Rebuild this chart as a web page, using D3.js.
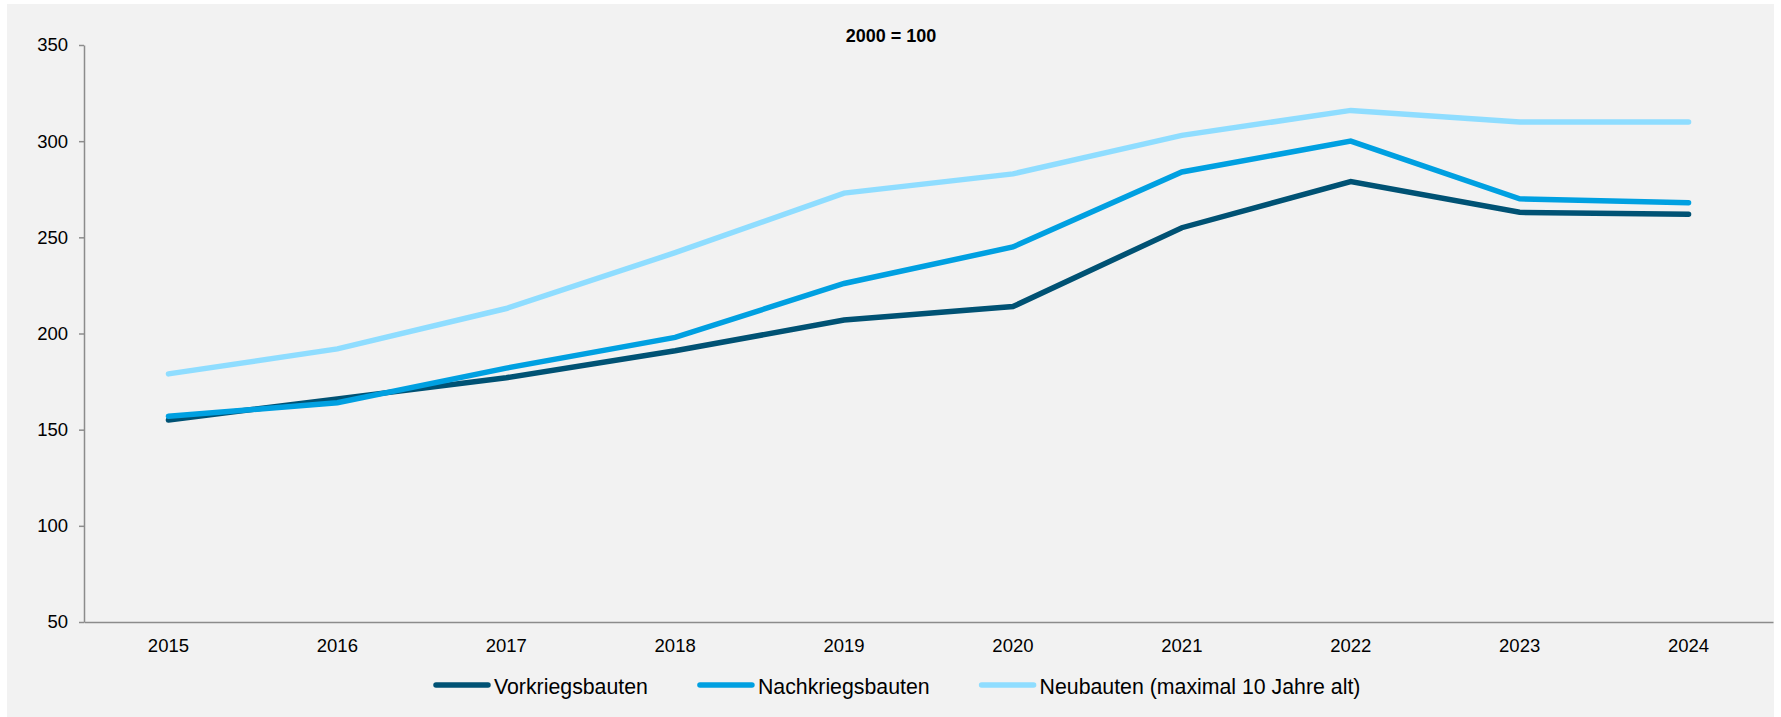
<!DOCTYPE html>
<html>
<head>
<meta charset="utf-8">
<script src="https://cdn.jsdelivr.net/npm/d3@7"></script>
<style>
  html, body { margin: 0; padding: 0; background: #ffffff; }
  svg { display: block; }
  text { font-family: "Liberation Sans", Arial, sans-serif; fill: #000; }
</style>
</head>
<body>
<svg id="chart" width="1781" height="717"></svg>
<script>
// ---- data ----
const years = ["2015","2016","2017","2018","2019","2020","2021","2022","2023","2024"];
const vorkriegsbauten = [155, 166, 177, 191, 207, 214, 255, 279, 263, 262];
const nachkriegsbauten = [157, 164, 182, 198, 226, 245, 284, 300, 270, 268];
const neubauten = [179, 192, 213, 242, 273, 283, 303, 316, 310, 310];
const seriesNames = ["Vorkriegsbauten", "Nachkriegsbauten", "Neubauten (maximal 10 Jahre alt)"];
const seriesColors = ["#005274", "#00a0e1", "#8fddff"];
const yTicks = [50, 100, 150, 200, 250, 300, 350];
const title = "2000 = 100";

const seriesValues = [vorkriegsbauten, nachkriegsbauten, neubauten];

// ---- layout ----
const svg = d3.select("#chart");
const panel = {x: 7, y: 4, w: 1767, h: 713};
const plot = {left: 84, right: 1773, top: 45, bottom: 622};

svg.append("rect")
  .attr("x", panel.x).attr("y", panel.y)
  .attr("width", panel.w).attr("height", panel.h)
  .attr("fill", "#f2f2f2");

const x = d3.scaleBand().domain(years).range([plot.left, plot.right]).padding(0);
const y = d3.scaleLinear().domain([50, 350]).range([plot.bottom, plot.top]);

// y axis
const yAxis = svg.append("g")
  .attr("transform", `translate(${plot.left},0)`)
  .call(d3.axisLeft(y).tickValues(yTicks).tickSize(5).tickPadding(11).tickSizeOuter(0));
yAxis.select(".domain").attr("stroke", "#8c8c8c").attr("stroke-width", 1.5);
yAxis.selectAll(".tick line").attr("stroke", "#8c8c8c").attr("stroke-width", 1.5);
yAxis.selectAll(".tick text")
  .attr("font-size", "18.5px")
  .attr("font-family", "Liberation Sans, Arial, sans-serif")
  .attr("fill", "#000");

// x axis
const xAxis = svg.append("g")
  .attr("transform", `translate(0,${plot.bottom})`)
  .call(d3.axisBottom(x).tickSize(0).tickPadding(17).tickSizeOuter(0));
xAxis.select(".domain").attr("stroke", "#8c8c8c").attr("stroke-width", 1.5);
xAxis.selectAll(".tick text")
  .attr("font-size", "18.5px")
  .attr("font-family", "Liberation Sans, Arial, sans-serif")
  .attr("fill", "#000");

// title
svg.append("text")
  .attr("x", 891).attr("y", 42)
  .attr("text-anchor", "middle")
  .attr("font-size", "18px")
  .attr("font-weight", "bold")
  .text(title);

// lines
const line = d3.line()
  .x((d, i) => x(years[i]) + x.bandwidth() / 2)
  .y(d => y(d));

seriesValues.forEach((vals, si) => {
  svg.append("path")
    .datum(vals)
    .attr("d", line)
    .attr("fill", "none")
    .attr("stroke", seriesColors[si])
    .attr("stroke-width", 5.5)
    .attr("stroke-linecap", "round")
    .attr("stroke-linejoin", "miter");
});

// legend
const legend = svg.append("g");
let lx = 434;
const ly = 685;
seriesNames.forEach((name, i) => {
  const g = legend.append("g");
  g.append("line")
    .attr("x1", lx + 2).attr("x2", lx + 54)
    .attr("y1", ly).attr("y2", ly)
    .attr("stroke", seriesColors[i])
    .attr("stroke-width", 5.5)
    .attr("stroke-linecap", "round");
  const t = g.append("text")
    .attr("x", lx + 60).attr("y", ly + 9)
    .attr("font-size", "21.3px")
    .text(name);
  const w = t.node().getComputedTextLength();
  lx = lx + 60 + w + 50;
});
</script>
</body>
</html>
